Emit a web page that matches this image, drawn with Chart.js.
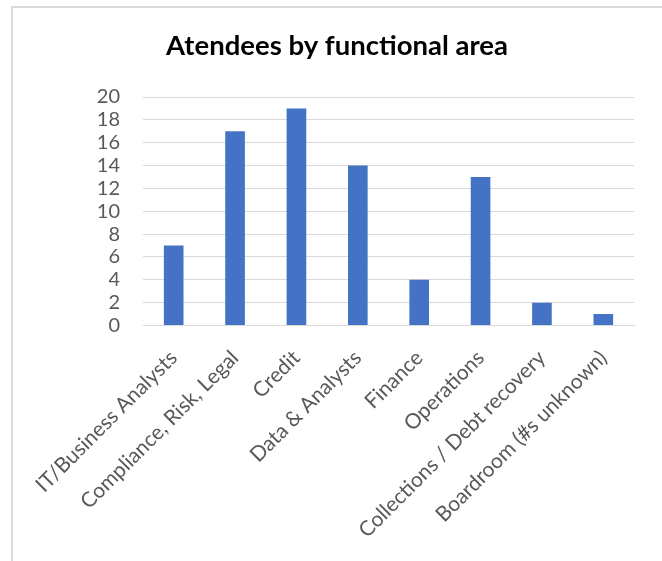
<!DOCTYPE html>
<html>
<head>
<meta charset="utf-8">
<script src="https://cdn.jsdelivr.net/npm/chart.js@4/dist/chart.umd.min.js"></script>
<style>
  html, body { margin: 0; padding: 0; background: #ffffff; overflow: hidden; }
  #wrap { position: relative; width: 662px; height: 561px; }
  #frame {
    position: absolute; left: 11px; top: 6px; width: 700px; height: 600px;
    border: 2px solid #d9d9d9; box-sizing: border-box;
  }
  #c { position: absolute; left: 0; top: 0; }
</style>
</head>
<body>
<div id="wrap">
  <div id="frame"></div>
  <canvas id="c" width="662" height="561"></canvas>
</div>
<script>
// Attendee counts per functional area
const categories = [
  'IT/Business Analysts',
  'Compliance, Risk, Legal',
  'Credit',
  'Data & Analysts',
  'Finance',
  'Operations',
  'Collections / Debt recovery',
  'Boardroom (#s unknown)'
];
const attendees = [7, 17, 19, 14, 4, 13, 2, 1];
const yTicks = { min: 0, max: 20, step: 2 };
const chartTitle = 'Atendees by functional area';

const FONT = "Lato, 'Liberation Sans', sans-serif";
const TEXT_GREY = '#595959';
const GRID_GREY = '#d9d9d9';

new Chart(document.getElementById('c'), {
  type: 'bar',
  data: {
    labels: categories,
    datasets: [{
      data: attendees,
      backgroundColor: '#4472C4',
      borderWidth: 0,
      barPercentage: 0.32,
      categoryPercentage: 1.0
    }]
  },
  options: {
    responsive: false,
    animation: false,
    events: [],
    layout: { padding: { left: 40, right: 28, top: 0, bottom: 0 } },
    plugins: {
      legend: { display: false },
      tooltip: { enabled: false },
      title: {
        display: true,
        text: chartTitle,
        color: '#000000',
        font: { family: FONT, size: 27.5, weight: 'bold', lineHeight: 1.2 },
        padding: { top: 30, bottom: 34 }
      }
    },
    scales: {
      x: {
        grid: { display: false, drawTicks: false },
        border: { display: true, color: GRID_GREY, width: 1 },
        ticks: {
          color: TEXT_GREY,
          font: { family: FONT, size: 21 },
          minRotation: 45,
          maxRotation: 45,
          autoSkip: false,
          padding: 20
        },
        afterFit(scale) { scale.height = 235.5; }
      },
      y: {
        min: yTicks.min,
        max: yTicks.max,
        grid: { color: GRID_GREY, lineWidth: 1, drawTicks: false },
        border: { display: false },
        ticks: {
          stepSize: yTicks.step,
          autoSkip: false,
          color: TEXT_GREY,
          font: { family: FONT, size: 20 },
          padding: 23
        },
        afterFit(scale) { scale.width = 103; }
      }
    }
  }
});
</script>
</body>
</html>
